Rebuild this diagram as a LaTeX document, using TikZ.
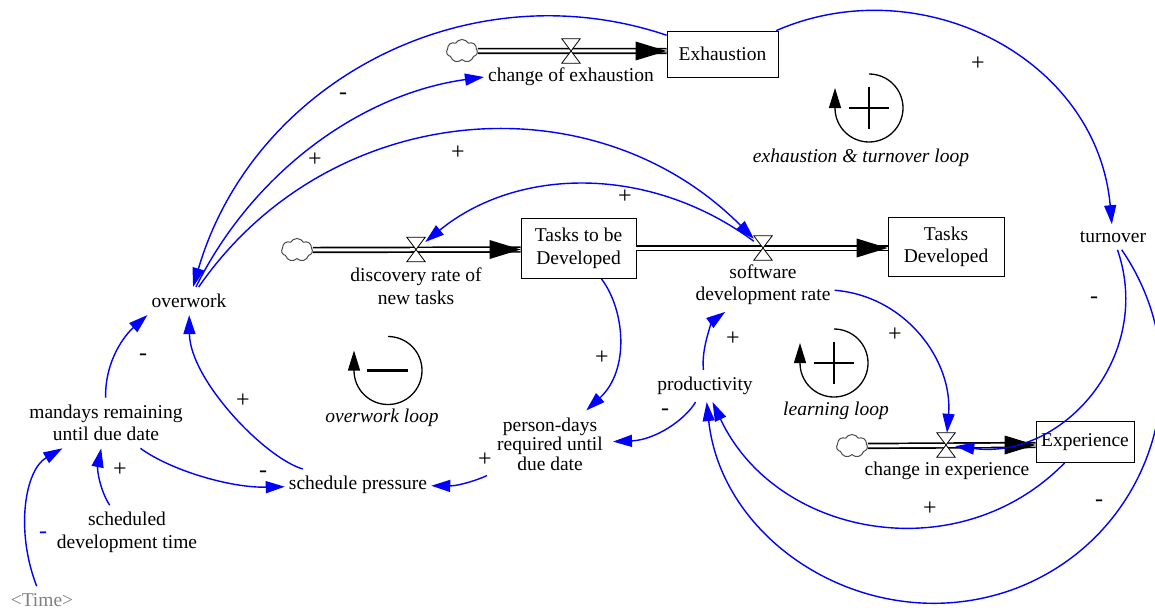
\documentclass[tikz,border=0pt]{standalone}
\usepackage{fontspec}
\setmainfont{Liberation Serif}
\usetikzlibrary{arrows.meta,shapes.symbols,calc}
\begin{document}
\begin{tikzpicture}[x=1pt,y=-1pt,
  every node/.style={font=\fontsize{19.5}{22.5}\selectfont},
  var/.style={align=center, inner xsep=4pt, inner ysep=7pt},
  stock/.style={draw, line width=0.8pt, align=center, inner sep=2pt, fill=white},
  valve/.style={inner sep=0pt, minimum width=18pt, minimum height=24pt},
  cloudy/.style={cloud, cloud puffs=7, cloud puff arc=120, aspect=1.35, draw=black!70, line width=1pt, inner sep=0pt, minimum width=31pt, minimum height=23pt, fill=white},
  pipe/.style={draw=black, line width=1.7pt, double=white, double distance=3pt},
  valvedraw/.style={draw=black, fill=white, line width=0.8pt},
  link/.style={draw=blue, line width=1.4pt, -{Triangle[length=19pt,width=12pt]}},
  pol/.style={font=\fontsize{24}{24}\selectfont, inner sep=0pt},
  looplbl/.style={font=\fontsize{19.5}{22.5}\selectfont\itshape},
  loopc/.style={line width=1.3pt, -{Triangle[length=20pt,width=12pt]}},
  sign/.style={line width=2.6pt}
]
\useasboundingbox (0,0) rectangle (1155,610);

% stocks
\node[stock, minimum width=111pt, minimum height=46pt] (exh) at (722.5,54) {Exhaustion};
\node[stock, minimum width=115pt, minimum height=60pt] (tbd) at (578.5,248.5) {Tasks to be\\Developed};
\node[stock, minimum width=116pt, minimum height=59pt] (td) at (946,247) {Tasks\\Developed};
\node[stock, minimum width=98pt, minimum height=41pt] (exp) at (1085,442) {Experience};

% valves (placeholders)
\node[valve] (vexh) at (571,51) {};
\node[valve] (vdisc) at (416,249.5) {};
\node[valve] (vsdr) at (763,248) {};
\node[valve] (vexp) at (946,445) {};

% clouds
\node[cloudy] (c1) at (462,51) {};
\node[cloudy] (c2) at (297,250) {};
\node[cloudy] (c3) at (852,446) {};

% pipes
\draw[pipe] (c1) -- (vexh.center -| exh.west);
\fill (vexh.center -| exh.west) -- ++(-31,-9.5) -- ++(0,19) -- cycle;
\draw[pipe] (c2) -- (vdisc.center -| tbd.west);
\fill (vdisc.center -| tbd.west) -- ++(-31,-9.5) -- ++(0,19) -- cycle;
\draw[pipe] (tbd.east |- vsdr.center) -- (vsdr.center -| td.west);
\fill (vsdr.center -| td.west) -- ++(-31,-9.5) -- ++(0,19) -- cycle;
\draw[pipe] (c3) -- (vexp.center -| exp.west);
\fill (vexp.center -| exp.west) -- ++(-31,-9.5) -- ++(0,19) -- cycle;

% valve bowties
\foreach \v in {vexh,vdisc,vsdr,vexp}{
  \draw[valvedraw] (\v.north west) -- (\v.north east) -- (\v.south west) -- (\v.south east) -- cycle;
}

% variables
\node[var] (chex) at (571,77) {change of exhaustion};
\node[var] (disc) at (416,286) {discovery rate of\\new tasks};
\node[var] (sdr) at (763,284.5) {software\\development rate};
\node[var] (chexp) at (947,471) {change in experience};
\node[var] (ov) at (189,301) {overwork};
\node[var] (turn) at (1113,237) {turnover};
\node[var] (mand) at (106,423) {mandays remaining\\until due date};
\node[var] (sched) at (127,532.5) {scheduled\\development time};
\node[var, text=black!50] (time) at (42,600) {<Time>};
\node[var] (sp) at (358,485) {schedule pressure};
\node[var, inner xsep=10pt, font=\fontsize{19.5}{19.5}\selectfont] (pd) at (550,444) {person-days\\required until\\due date};
\node[var] (prod) at (705,386) {productivity};

% causal links
\draw[link] (exh) .. controls (467,-32) and (253,82) .. (ov);
\draw[link] (ov) .. controls (253,172) and (361,94) .. (chex.west);
\draw[link] (ov) .. controls (328,100) and (593,77) .. (vsdr);
\draw[link] (vsdr) .. controls (649,164) and (517,167) .. (vdisc);
\draw[link] (exh) .. controls (920,-32) and (1097,57) .. (turn);
\draw[link] (turn) .. controls (1154,355) and (1064,460) .. (vexp);
\draw[link] (turn) .. controls (1206,373) and (1150.5,540) .. (1011.5,590) .. controls (872.5,639) and (722,546) .. (prod);
\draw[link] (exp) .. controls (959,571) and (776,537.5) .. (prod);
\draw[link] (sdr) .. controls (906,296) and (953,361) .. (vexp);
\draw[link] (prod) .. controls (701,345) and (714,320) .. (sdr);
\draw[link] (prod) .. controls (685,420) and (655,440) .. (pd);
\draw[link] (tbd) .. controls (625,310) and (630,370) .. (pd);
\draw[link] (pd) .. controls (478,480) and (458,486) .. (sp);
\draw[link] (sp) .. controls (265,458) and (190,380) .. (ov);
\draw[link] (mand) .. controls (105,360) and (125,335) .. (ov.south west);
\draw[link] (mand) .. controls (170,470) and (230,488) .. (sp);
\draw[link] (sched) .. controls (100,490) and (97,470) .. (mand);
\draw[link] (time) .. controls (15,530) and (25,470) .. (mand);

% polarities
\node[pol] (s1) at (343,96) {-};
\node[pol] (s2) at (315,160) {+};
\node[pol] (s3) at (458,153) {+};
\node[pol] (s4) at (625,197) {+};
\node[pol] (s5) at (978,64) {+};
\node[pol] (s6) at (1094,300) {-};
\node[pol] (s7) at (895,335) {+};
\node[pol] (s8) at (733,339) {+};
\node[pol] (s9) at (665,412) {-};
\node[pol] (s10) at (602,358) {+};
\node[pol] (s11) at (485,460) {+};
\node[pol] (s12) at (243,401) {+};
\node[pol] (s13) at (143,357) {-};
\node[pol] (s14) at (263,474) {-};
\node[pol] (s15) at (120,470) {+};
\node[pol, text=blue] (s16) at (43,535) {-};
\node[pol] (s17) at (930,509) {+};
\node[pol] (s18) at (1099,503) {-};

% loop symbols
\begin{scope}[shift={(869,108)}]
  \draw[loopc] (90:34pt) arc[start angle=90, end angle=-180, radius=34pt] -- ++(0pt,20pt);
  \draw[sign] (-20pt,0pt) -- (20pt,0pt) (0pt,-21pt) -- (0pt,21pt);
\end{scope}
\begin{scope}[shift={(388,370.5)}]
  \draw[loopc] (90:34pt) arc[start angle=90, end angle=-180, radius=34pt] -- ++(0pt,20pt);
  \draw[sign] (-21pt,0pt) -- (20pt,0pt);
\end{scope}
\begin{scope}[shift={(834,363)}]
  \draw[loopc] (90:34pt) arc[start angle=90, end angle=-180, radius=34pt] -- ++(0pt,20pt);
  \draw[sign] (-20pt,0pt) -- (20pt,0pt) (0pt,-21pt) -- (0pt,21pt);
\end{scope}
\node[looplbl] (l1) at (861,158) {exhaustion \& turnover loop};
\node[looplbl] (l2) at (382,418) {overwork loop};
\node[looplbl] (l3) at (836,411) {learning loop};
\end{tikzpicture}
\end{document}
